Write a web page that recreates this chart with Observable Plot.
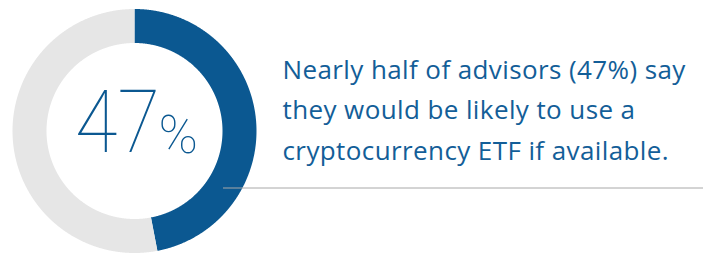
<!DOCTYPE html>
<html><head><meta charset="utf-8">
<script src="https://cdn.jsdelivr.net/npm/d3@7"></script>
<script src="https://cdn.jsdelivr.net/npm/@observablehq/plot@0.6"></script>
<style>html,body{margin:0;padding:0;background:#fff} .bodytext text{letter-spacing:0.4px}</style>
</head><body><div id="chart"></div>
<script>
const categories = ["Likely to use", "Not likely"];
const shares = [47, 53];
const centerValue = ["47"];
const centerUnit = ["%"];
const textLines = ["Nearly half of advisors (47%) say", "they would be likely to use a", "cryptocurrency ETF if available."];

const W = 712, H = 255;
const cx = 134, cy = 130.5, rOuter = 122, rInner = 88;
const rMid = (rOuter + rInner) / 2, thick = rOuter - rInner;
const blue = "#0b5891", grey = "#e6e6e6";

// build arc sample points from the shares
const total = d3.sum(shares);
const arcPts = [];
let acc = 0;
categories.forEach((c, i) => {
  const a0 = acc / total * 2 * Math.PI;
  acc += shares[i];
  const a1 = acc / total * 2 * Math.PI;
  const n = Math.max(2, Math.ceil((a1 - a0) / (Math.PI / 720)));
  for (let k = 0; k <= n; k++) {
    const a = a0 + (a1 - a0) * k / n;
    arcPts.push({cat: c, x: cx + rMid * Math.sin(a), y: cy - rMid * Math.cos(a)});
  }
});

const numX = 75, numY = 152;
const chart = Plot.plot({
  width: W, height: H, margin: 0,
  x: {type: "identity", axis: null}, y: {type: "identity", axis: null},
  color: {domain: categories, range: [blue, grey]},
  marks: [
    Plot.line(arcPts, {x: "x", y: "y", z: "cat", stroke: "cat", strokeWidth: thick, strokeLinecap: "butt", strokeLinejoin: "round"}),
    Plot.text(centerValue, {x: numX, y: numY, text: d => d, textAnchor: "start", lineAnchor: "bottom", fontSize: 87, fontWeight: 100, fontFamily: "Roboto", fill: blue, className: "bignum"}),
    Plot.text(centerUnit, {x: 158, y: numY, text: d => d, textAnchor: "start", lineAnchor: "bottom", fontSize: 53, fontWeight: 100, fontFamily: "Roboto", fill: blue}),
    Plot.text(textLines, {x: 282, y: (d, i) => 78 + i * 40.6, text: d => d, textAnchor: "start", lineAnchor: "bottom", fontSize: 26, fontWeight: 400, fontFamily: "Open Sans", fill: "#135e98", className: "bodytext"}),
    Plot.ruleY([187.5], {x1: 223, x2: 703, stroke: "#a8a8a8", strokeWidth: 1})
  ]
});
// narrow the thin numeral horizontally, like the reference's condensed digits
d3.select(chart).select("g.bignum").attr("transform", `translate(${numX},${numY}) scale(0.89,1) translate(${-numX},${-numY})`);
document.getElementById("chart").appendChild(chart);
</script>
</body></html>
